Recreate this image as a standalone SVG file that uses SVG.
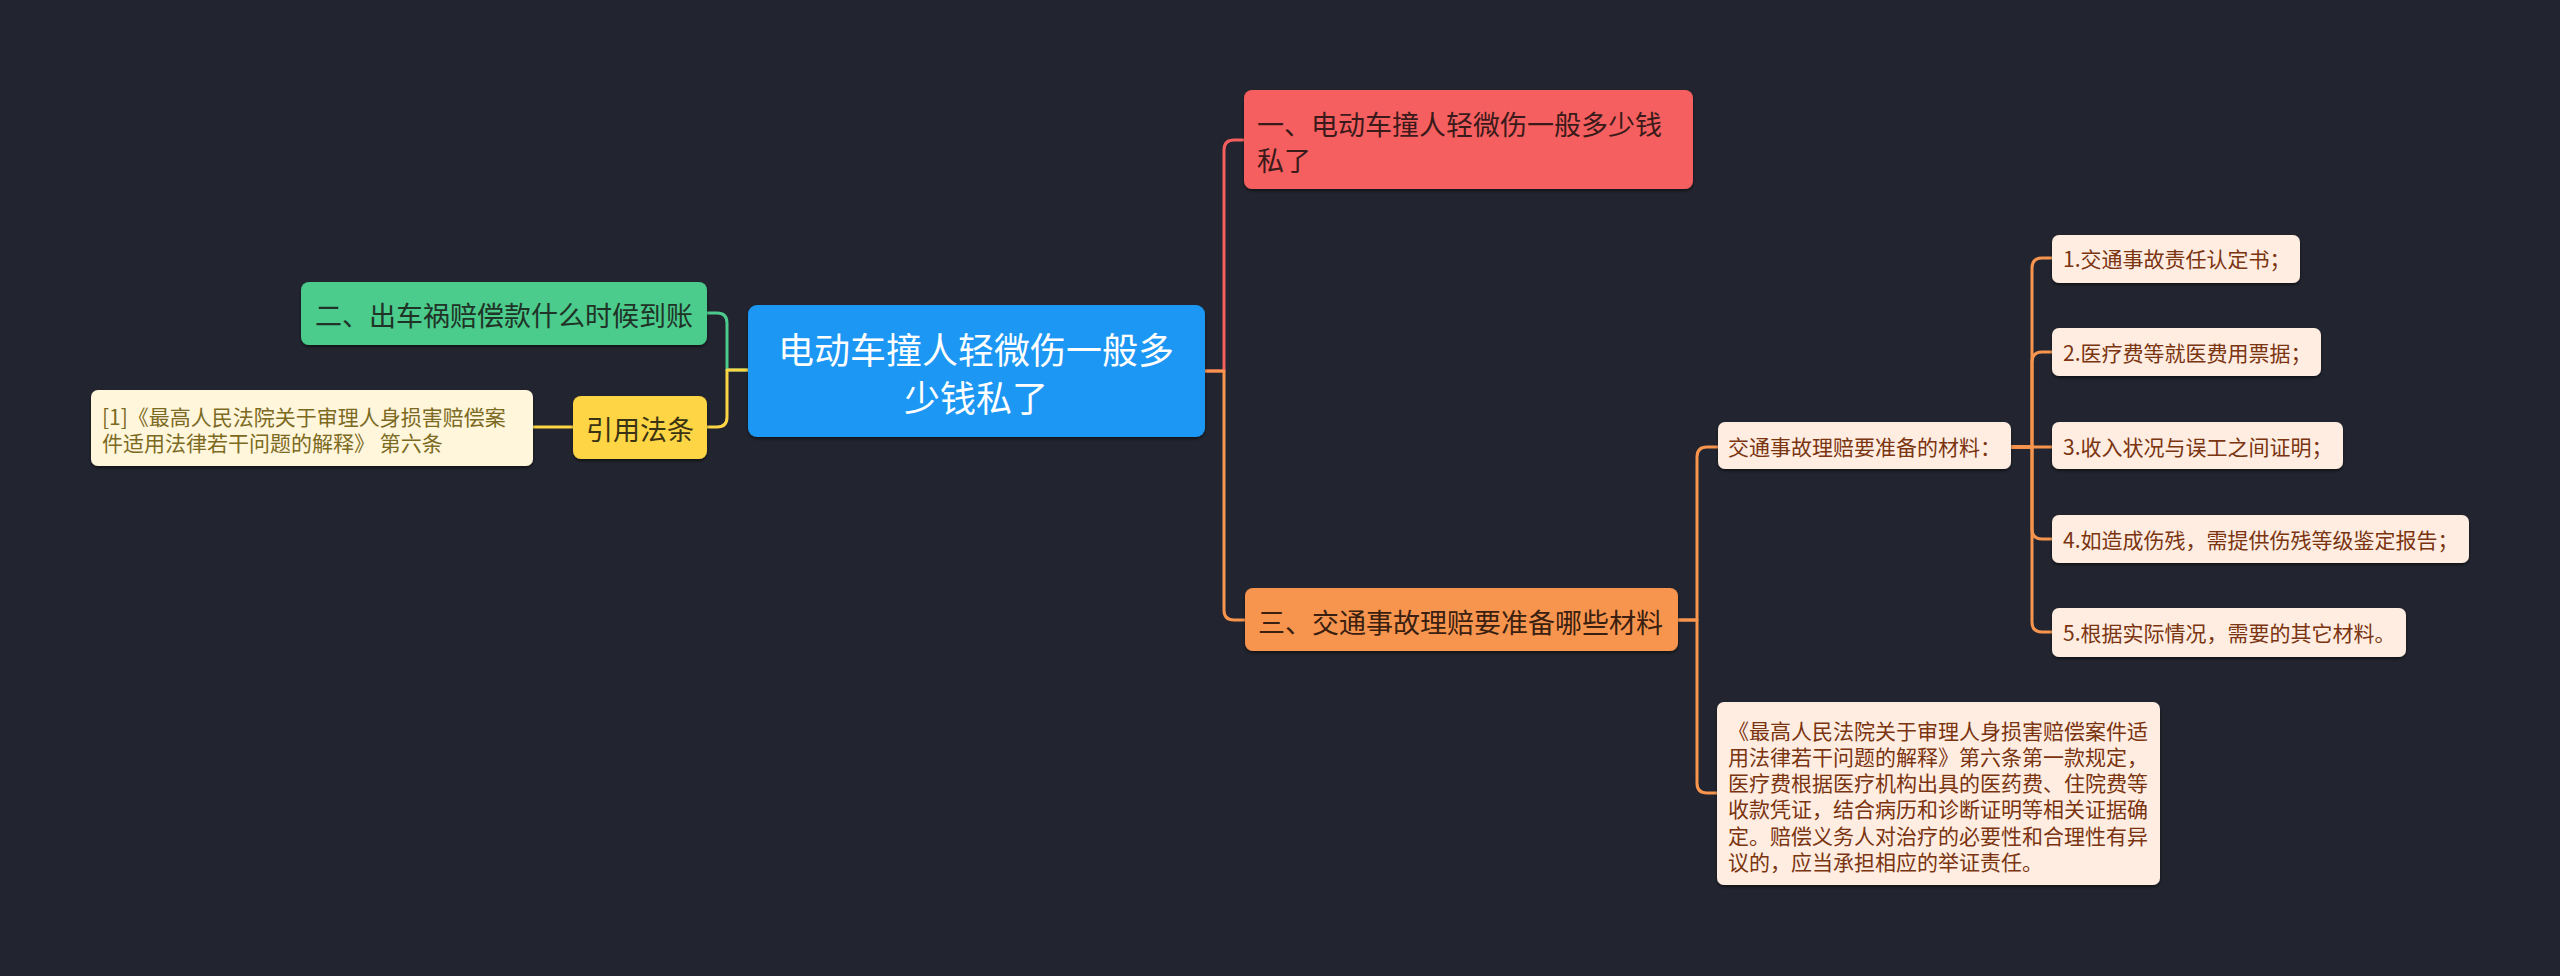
<svg xmlns="http://www.w3.org/2000/svg" width="2560" height="976" viewBox="0 0 2560 976">
<style>
text{font-family:"Noto Sans CJK SC","Noto Sans",sans-serif;dominant-baseline:central}
.c{fill:none;stroke-width:3;stroke-linecap:round;stroke-linejoin:round}
.sh{filter:url(#s)}
.t27{font-size:27px}
.t21{font-size:21px}
.it{fill:#ffede2}
.itx{fill:#7a3410;font-size:21px}
</style>
<defs>
<filter id="s" x="-10%" y="-20%" width="120%" height="140%">
<feDropShadow dx="0" dy="2" stdDeviation="1.5" flood-color="#000" flood-opacity="0.5"/>
</filter>
</defs>
<rect width="2560" height="976" fill="#22252f"/>
<g id="connectors">
<path class="c" stroke="#4ccb8c" d="M748,370 H727 V323 Q727,313 717,313 H707"/>
<path class="c" stroke="#fdd545" d="M748,370 H727 V417 Q727,427 717,427 H707"/>
<path class="c" stroke="#fdd545" d="M573,427 H533"/>
<path class="c" stroke="#f65e5e" d="M1205,371 H1224 V150 Q1224,140 1234,140 H1244"/>
<path class="c" stroke="#f7954f" d="M1205,371 H1224 V610 Q1224,620 1234,620 H1245"/>
<path class="c" stroke="#f7954f" d="M1678,620 H1697 V457 Q1697,447 1707,447 H1718"/>
<path class="c" stroke="#f7954f" d="M1678,620 H1697 V783 Q1697,793 1707,793 H1717"/>
<path class="c" stroke="#f7954f" d="M2011,447 H2032 V268 Q2032,258 2042,258 H2052"/>
<path class="c" stroke="#f7954f" d="M2011,447 H2032 V362 Q2032,352 2042,352 H2052"/>
<path class="c" stroke="#f7954f" d="M2011,447 H2052"/>
<path class="c" stroke="#f7954f" d="M2011,447 H2032 V529 Q2032,539 2042,539 H2052"/>
<path class="c" stroke="#f7954f" d="M2011,447 H2032 V622 Q2032,632 2042,632 H2052"/>
</g>
<g id="root">
<rect class="sh" x="748" y="305" width="457" height="132" rx="9" fill="#1b97f3"/>
<text x="976" y="348" font-size="36" fill="#ffffff" text-anchor="middle">电动车撞人轻微伤一般多</text>
<text x="976" y="396" font-size="36" fill="#ffffff" text-anchor="middle">少钱私了</text>
</g>
<g id="n-green">
<rect class="sh" x="301" y="282" width="406" height="63" rx="8" fill="#4ccb8c"/>
<text class="t27" x="315" y="314" fill="#1f3327">二、出车祸赔偿款什么时候到账</text>
</g>
<g id="n-yellow">
<rect class="sh" x="573" y="396" width="134" height="63" rx="8" fill="#fdd545"/>
<text class="t27" x="586" y="428" fill="#3a3212">引用法条</text>
</g>
<g id="n-cite">
<rect class="sh" x="91" y="390" width="442" height="76" rx="7" fill="#fff6dc"/>
<text class="t21" x="102" y="416" fill="#7c6a22">[1]《最高人民法院关于审理人身损害赔偿案</text>
<text class="t21" x="102" y="442" fill="#7c6a22">件适用法律若干问题的解释》 第六条</text>
</g>
<g id="n-red">
<rect class="sh" x="1244" y="90" width="449" height="99" rx="8" fill="#f65e5e"/>
<text class="t27" x="1257" y="123" fill="#3a1a1a">一、电动车撞人轻微伤一般多少钱</text>
<text class="t27" x="1257" y="159" fill="#3a1a1a">私了</text>
</g>
<g id="n-orange">
<rect class="sh" x="1245" y="588" width="433" height="63" rx="8" fill="#f7954f"/>
<text class="t27" x="1258" y="621" fill="#3a2010">三、交通事故理赔要准备哪些材料</text>
</g>
<g id="n-materials">
<rect class="sh it" x="1718" y="422" width="293" height="47" rx="7"/>
<text class="itx" x="1728" y="446">交通事故理赔要准备的材料：</text>
</g>
<g id="n-item1">
<rect class="sh it" x="2052" y="235" width="248" height="48" rx="7"/>
<text class="itx" x="2063" y="258">1.交通事故责任认定书；</text>
</g>
<g id="n-item2">
<rect class="sh it" x="2052" y="328" width="269" height="48" rx="7"/>
<text class="itx" x="2063" y="352">2.医疗费等就医费用票据；</text>
</g>
<g id="n-item3">
<rect class="sh it" x="2052" y="422" width="291" height="47" rx="7"/>
<text class="itx" x="2063" y="446">3.收入状况与误工之间证明；</text>
</g>
<g id="n-item4">
<rect class="sh it" x="2052" y="515" width="417" height="48" rx="7"/>
<text class="itx" x="2063" y="539">4.如造成伤残，需提供伤残等级鉴定报告；</text>
</g>
<g id="n-item5">
<rect class="sh it" x="2052" y="608" width="354" height="49" rx="7"/>
<text class="itx" x="2063" y="632">5.根据实际情况，需要的其它材料。</text>
</g>
<g id="n-para">
<rect class="sh it" x="1717" y="702" width="443" height="183" rx="7"/>
<text class="itx" x="1728" y="730">《最高人民法院关于审理人身损害赔偿案件适</text>
<text class="itx" x="1728" y="756">用法律若干问题的解释》第六条第一款规定，</text>
<text class="itx" x="1728" y="782">医疗费根据医疗机构出具的医药费、住院费等</text>
<text class="itx" x="1728" y="808">收款凭证，结合病历和诊断证明等相关证据确</text>
<text class="itx" x="1728" y="835">定。赔偿义务人对治疗的必要性和合理性有异</text>
<text class="itx" x="1728" y="861">议的，应当承担相应的举证责任。</text>
</g>
</svg>
